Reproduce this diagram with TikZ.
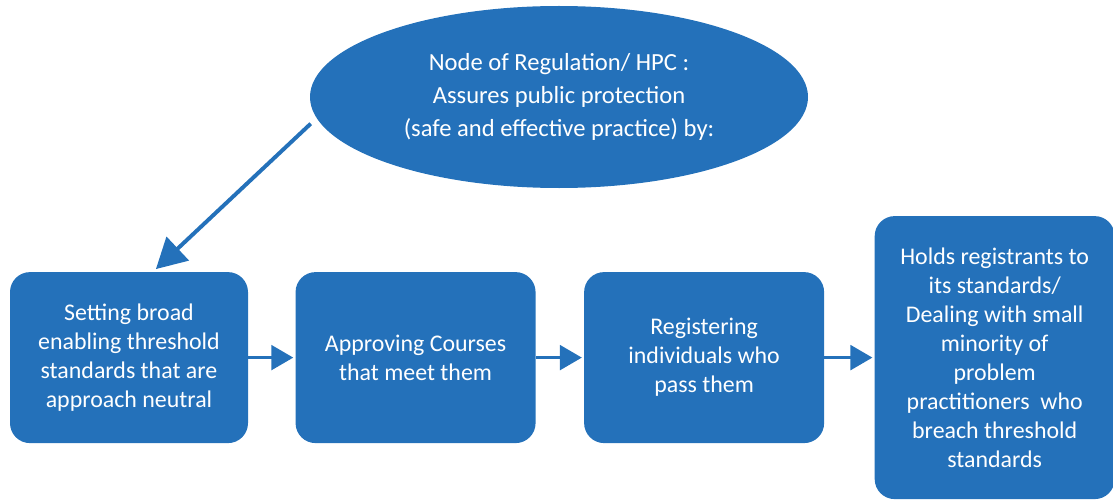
\documentclass[tikz,border=0pt]{standalone}
\usepackage{fontspec}
\setmainfont{Carlito}
\usetikzlibrary{positioning,shapes.geometric,arrows.meta}
\definecolor{hpcblue}{RGB}{36,113,186}
\tikzset{
  stage/.style     = {shape=rectangle, rounded corners=0.5cm,
                      fill=hpcblue, text=white, align=center, inner sep=0pt,
                      minimum width=6cm, minimum height=4.275cm,
                      font=\fontsize{17}{20.6}\selectfont},
  stagetall/.style = {stage, minimum height=7.075cm},
  regnode/.style   = {shape=ellipse, fill=hpcblue, text=white, align=center,
                      inner sep=0pt, minimum width=12.45cm, minimum height=4.55cm,
                      font=\fontsize{17.5}{23.5}\selectfont},
  link/.style      = {draw=hpcblue, line width=2.1pt,
                      -{Triangle[length=0.55cm,width=0.62cm]}},
  biglink/.style   = {link, line width=2.8pt,
                      -{Triangle[length=0.75cm,width=0.8cm]}}
}

\begin{document}
\begin{tikzpicture}
  \useasboundingbox (0,0) rectangle (27.825,-12.5);
  \node [regnode] (reg) at (13.975,-2.425)
    {Node of Regulation/ HPC :\\Assures public protection\\(safe and effective practice) by:};
  \node [stage, minimum width=5.95cm] (setting) at (3.225,-8.94)
    {Setting broad\\enabling threshold\\standards that are\\approach neutral};
  \node [stage, right=1.175cm of setting] (approving)
    {Approving Courses\\that meet them};
  \node [stage, right=1.2cm of approving] (registering)
    {Registering\\individuals who\\pass them};
  \node [stagetall, right=1.25cm of registering] (holds)
    {Holds registrants to\\its standards/\\Dealing with small\\minority of\\problem\\practitioners\ \ who\\breach threshold\\standards};

  \draw [biglink, shorten <=0.2cm, shorten >=0.1cm] (reg.185) -- ([xshift=0.6cm]setting.north);
  \draw [link, shorten >=0.05cm] (setting) -- (approving);
  \draw [link, shorten >=0.05cm] (approving) -- (registering);
  \draw [link, shorten >=0.05cm] (registering) -- (registering -| holds.west);
\end{tikzpicture}
\end{document}
